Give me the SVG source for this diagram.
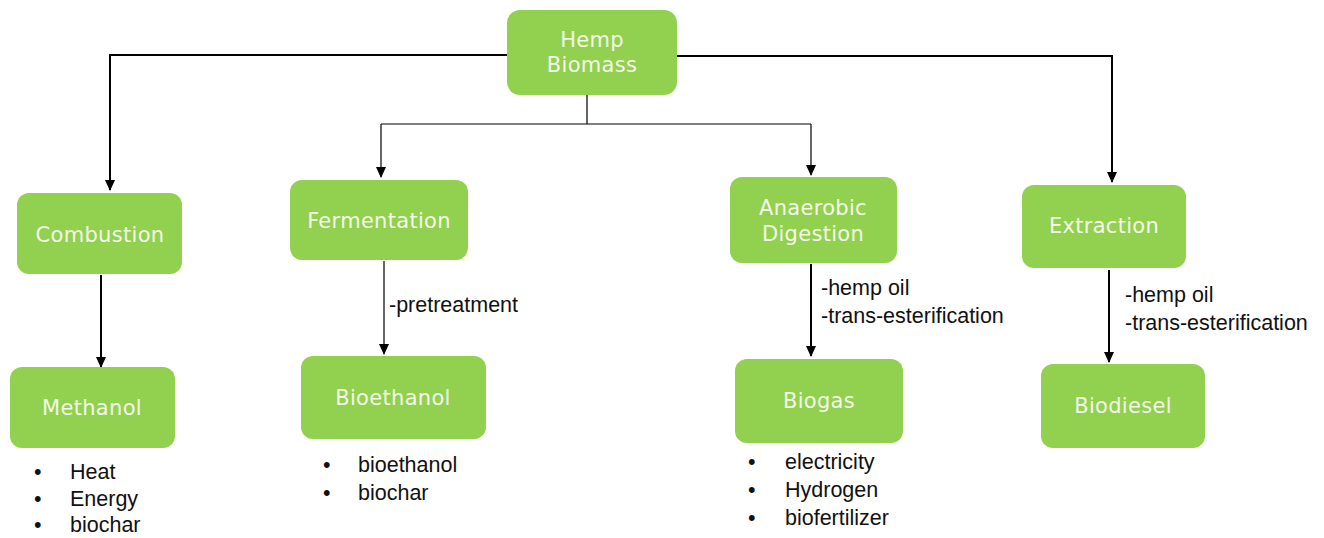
<svg xmlns="http://www.w3.org/2000/svg" width="1324" height="538" viewBox="0 0 1324 538">
<defs>
<marker id="ah" markerUnits="userSpaceOnUse" markerWidth="11" markerHeight="10" refX="10" refY="5" orient="auto" viewBox="0 0 11 10">
<path d="M0,0 L11,5 L0,10 Z" fill="#000"/>
</marker>
<style>
.box{fill:#92d050;}
.bt{font-family:"DejaVu Sans",sans-serif;font-size:21px;fill:#f3fae8;text-anchor:middle;letter-spacing:0.3px;}
.lb{font-family:"Liberation Sans",Arial,sans-serif;font-size:21.5px;fill:#111;}
.thick{stroke:#000;stroke-width:2;fill:none;}
.thin{stroke:#000;stroke-width:1.2;fill:none;}
</style>
</defs>
<rect width="1324" height="538" fill="#fff"/>
<g id="connectors">
<path class="thick" d="M507,55 H110 V175"/>
<path class="thick" d="M677,56 H1112 V170"/>
<path class="thin" d="M587,95 V124 M381,124 H811"/>
<path class="thin" d="M381,124 V177" marker-end="url(#ah)"/>
<path class="thin" d="M811,124 V175" marker-end="url(#ah)"/>
<path class="thick" d="M110,170 V190" marker-end="url(#ah)"/>
<path class="thick" d="M1112,165 V182" marker-end="url(#ah)"/>
<path class="thick" d="M101,275 V367" marker-end="url(#ah)"/>
<path class="thin" d="M384,261 V354" marker-end="url(#ah)"/>
<path class="thick" d="M811,264 V356" marker-end="url(#ah)"/>
<path class="thick" d="M1109,270 V362" marker-end="url(#ah)"/>
<text class="lb" x="389" y="312">-pretreatment</text>
<text class="lb" x="821" y="295">-hemp oil</text>
<text class="lb" x="821" y="323">-trans-esterification</text>
<text class="lb" x="1125" y="302">-hemp oil</text>
<text class="lb" x="1125" y="330">-trans-esterification</text>
</g>
<g id="hemp">
<rect class="box" x="507" y="10" width="170" height="85" rx="13"/>
<text class="bt" x="592" y="47">Hemp</text>
<text class="bt" x="592" y="72">Biomass</text>
</g>
<g id="combustion">
<rect class="box" x="17" y="193" width="165" height="81" rx="12"/>
<text class="bt" x="100" y="242">Combustion</text>
</g>
<g id="fermentation">
<rect class="box" x="290" y="180" width="178" height="80" rx="12"/>
<text class="bt" x="379" y="228">Fermentation</text>
</g>
<g id="anaerobic">
<rect class="box" x="730" y="177" width="167" height="86" rx="12"/>
<text class="bt" x="813" y="215">Anaerobic</text>
<text class="bt" x="813" y="241">Digestion</text>
</g>
<g id="extraction">
<rect class="box" x="1022" y="185" width="164" height="83" rx="12"/>
<text class="bt" x="1104" y="233">Extraction</text>
</g>
<g id="methanol">
<rect class="box" x="10" y="367" width="165" height="81" rx="12"/>
<text class="bt" x="92" y="415">Methanol</text>
<text class="lb" x="34" y="479">•</text><text class="lb" x="70" y="479">Heat</text>
<text class="lb" x="34" y="506">•</text><text class="lb" x="70" y="506">Energy</text>
<text class="lb" x="34" y="532">•</text><text class="lb" x="70" y="532">biochar</text>
</g>
<g id="bioethanol">
<rect class="box" x="301" y="356" width="185" height="83" rx="12"/>
<text class="bt" x="393" y="405">Bioethanol</text>
<text class="lb" x="323" y="472">•</text><text class="lb" x="358" y="472">bioethanol</text>
<text class="lb" x="323" y="500">•</text><text class="lb" x="358" y="500">biochar</text>
</g>
<g id="biogas">
<rect class="box" x="735" y="359" width="168" height="84" rx="12"/>
<text class="bt" x="819" y="408">Biogas</text>
<text class="lb" x="748" y="469">•</text><text class="lb" x="785" y="469">electricity</text>
<text class="lb" x="748" y="497">•</text><text class="lb" x="785" y="497">Hydrogen</text>
<text class="lb" x="748" y="525">•</text><text class="lb" x="785" y="525">biofertilizer</text>
</g>
<g id="biodiesel">
<rect class="box" x="1041" y="364" width="164" height="84" rx="12"/>
<text class="bt" x="1123" y="413">Biodiesel</text>
</g>
</svg>
